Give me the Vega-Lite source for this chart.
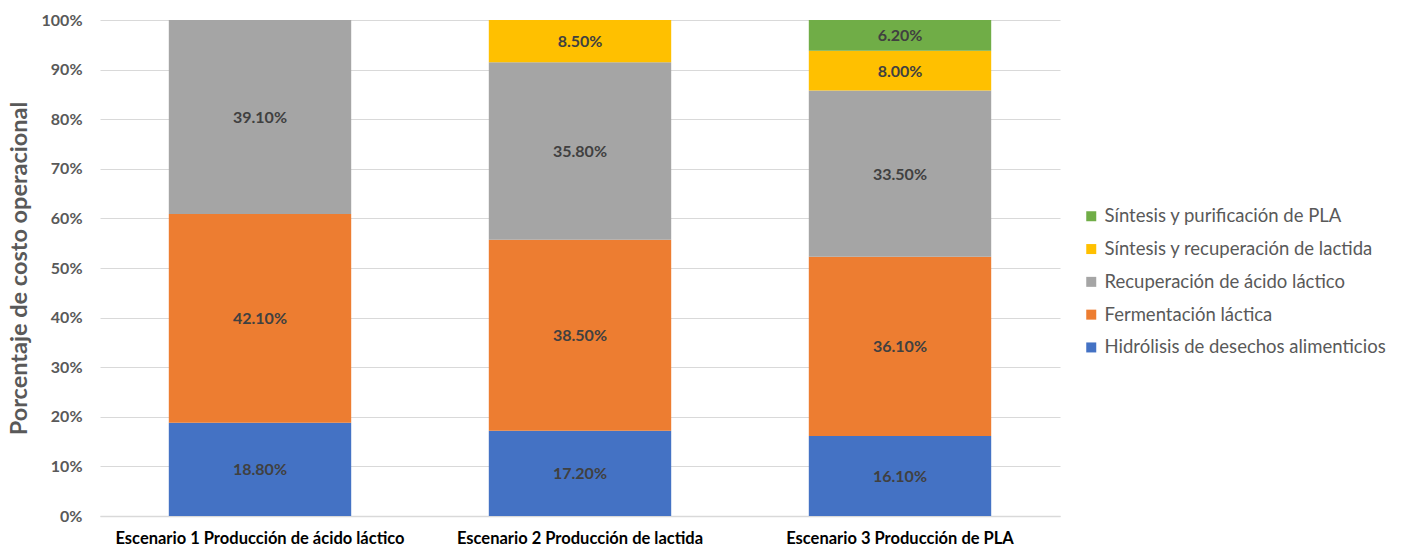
{
  "$schema": "https://vega.github.io/schema/vega-lite/v6.json",
  "autosize": "none",
  "width": 960,
  "height": 496,
  "padding": {"left": 100, "top": 20, "right": 342, "bottom": 38},
  "background": "white",
  "config": {
    "font": "Lato",
    "view": {"stroke": null}
  },
  "data": {
    "values": [
      {"escenario": "Escenario 1 Producción de ácido láctico", "etapa": "Hidrólisis de desechos alimenticios", "orden": 1, "valor": 18.8},
      {"escenario": "Escenario 1 Producción de ácido láctico", "etapa": "Fermentación láctica", "orden": 2, "valor": 42.1},
      {"escenario": "Escenario 1 Producción de ácido láctico", "etapa": "Recuperación de ácido láctico", "orden": 3, "valor": 39.1},
      {"escenario": "Escenario 2 Producción de lactida", "etapa": "Hidrólisis de desechos alimenticios", "orden": 1, "valor": 17.2},
      {"escenario": "Escenario 2 Producción de lactida", "etapa": "Fermentación láctica", "orden": 2, "valor": 38.5},
      {"escenario": "Escenario 2 Producción de lactida", "etapa": "Recuperación de ácido láctico", "orden": 3, "valor": 35.8},
      {"escenario": "Escenario 2 Producción de lactida", "etapa": "Síntesis y recuperación de lactida", "orden": 4, "valor": 8.5},
      {"escenario": "Escenario 3 Producción de PLA", "etapa": "Hidrólisis de desechos alimenticios", "orden": 1, "valor": 16.1},
      {"escenario": "Escenario 3 Producción de PLA", "etapa": "Fermentación láctica", "orden": 2, "valor": 36.1},
      {"escenario": "Escenario 3 Producción de PLA", "etapa": "Recuperación de ácido láctico", "orden": 3, "valor": 33.5},
      {"escenario": "Escenario 3 Producción de PLA", "etapa": "Síntesis y recuperación de lactida", "orden": 4, "valor": 8.0},
      {"escenario": "Escenario 3 Producción de PLA", "etapa": "Síntesis y purificación de PLA", "orden": 5, "valor": 6.2}
    ]
  },
  "transform": [
    {"stack": "valor", "groupby": ["escenario"], "sort": [{"field": "orden", "order": "ascending"}], "offset": "normalize", "as": ["y0", "y1"]},
    {"calculate": "(datum.y0 + datum.y1) / 2", "as": "ymid"},
    {"calculate": "format(datum.valor, '.2f') + '%'", "as": "etiqueta"}
  ],
  "encoding": {
    "x": {
      "field": "escenario",
      "type": "nominal",
      "sort": null,
      "scale": {"paddingInner": 0.43, "paddingOuter": 0.215},
      "axis": {
        "title": null,
        "labelAngle": 0,
        "labelFont": "Lato",
        "labelFontSize": 16.5,
        "labelFontWeight": "bold",
        "labelColor": "#000000",
        "labelPadding": 14,
        "labelLimit": 0,
        "ticks": false,
        "domainColor": "#D9D9D9",
        "domainWidth": 1.5
      }
    }
  },
  "layer": [
    {
      "mark": {"type": "bar"},
      "encoding": {
        "y": {
          "field": "y0",
          "type": "quantitative",
          "scale": {"domain": [0, 1]},
          "axis": {
            "title": "Porcentaje de costo operacional",
            "titleFont": "Lato",
            "titleFontSize": 23.5,
            "titleFontWeight": "bold",
            "titleColor": "#595959",
            "titlePadding": 10,
            "format": ".0%",
            "values": [0, 0.1, 0.2, 0.3, 0.4, 0.5, 0.6, 0.7, 0.8, 0.9, 1],
            "labelOverlap": false,
            "labelFont": "Lato",
            "labelFontSize": 16,
            "labelFontWeight": "bold",
            "labelColor": "#595959",
            "labelPadding": 18,
            "ticks": false,
            "domain": false,
            "gridColor": "#D9D9D9",
            "gridWidth": 1.2
          }
        },
        "y2": {"field": "y1"},
        "color": {
          "field": "etapa",
          "type": "nominal",
          "scale": {
            "domain": ["Síntesis y purificación de PLA", "Síntesis y recuperación de lactida", "Recuperación de ácido láctico", "Fermentación láctica", "Hidrólisis de desechos alimenticios"],
            "range": ["#70AD47", "#FFC000", "#A5A5A5", "#ED7D31", "#4472C4"]
          },
          "legend": {
            "title": null,
            "orient": "none",
            "legendX": 982,
            "legendY": 187,
            "symbolType": "square",
            "symbolSize": 100,
            "symbolStrokeWidth": 0,
            "labelFont": "Lato",
            "labelFontSize": 18.5,
            "labelColor": "#595959",
            "labelOffset": 4,
            "labelLimit": 0,
            "rowPadding": 13.8
          }
        }
      }
    },
    {
      "mark": {"type": "text", "font": "Lato", "fontSize": 16, "fontWeight": "bold", "color": "#404040", "baseline": "middle", "dy": 1},
      "encoding": {
        "y": {"field": "ymid", "type": "quantitative"},
        "text": {"field": "etiqueta", "type": "nominal"}
      }
    }
  ]
}
